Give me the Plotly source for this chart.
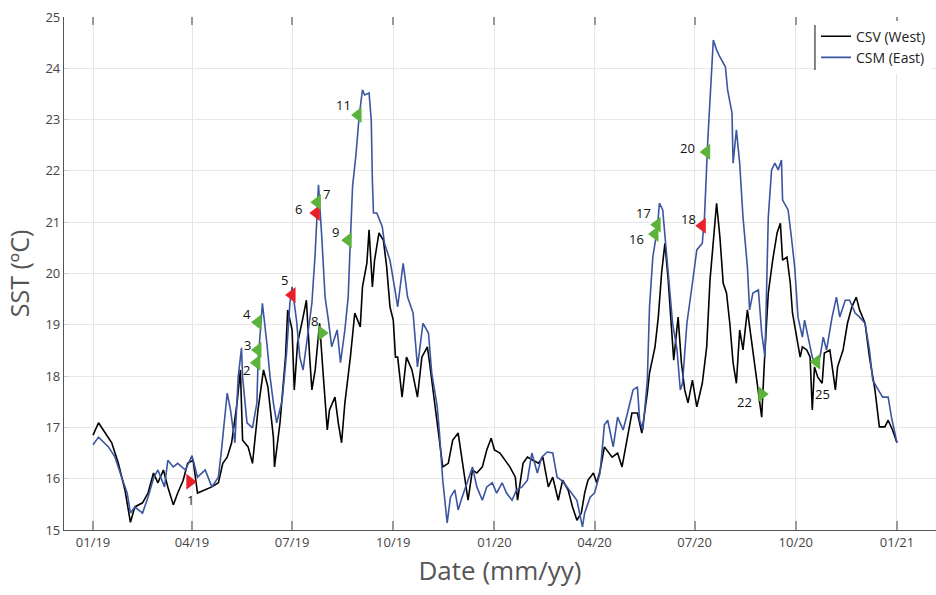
import pandas as pd
import plotly.graph_objects as go

START = pd.Timestamp("2019-01-01")

# ---- data (day offset from 2019-01-01, SST in degC) ----
csv_day = [0, 5, 17, 23, 29, 34, 38, 45, 50, 55, 59, 64, 68, 73, 77, 82, 86, 91, 95, 102,
           108, 114, 118, 122, 126, 131, 134, 136, 141, 145, 150, 155, 159, 164, 165, 170, 175,
           177, 181, 183, 186, 191, 194, 197, 199, 202, 206, 209, 213, 215, 220, 223, 226, 229,
           234, 238, 243, 245, 249, 251, 254, 256, 260, 264, 267, 270, 273, 275, 277, 281, 285,
           290, 295, 299, 304, 306, 311, 315, 318, 323, 327, 332, 336, 341, 345, 349, 354, 358,
           362, 365, 370, 375, 379, 384, 386, 391, 395, 400, 405, 409, 414, 418, 423, 427, 432,
           436, 440, 444, 447, 450, 455, 458, 461, 465, 472, 477, 481, 485, 490, 495, 499, 504,
           506, 511, 514, 517, 520, 523, 526, 528, 532, 535, 538, 541, 545, 549, 554, 558, 561,
           564, 567, 570, 573, 576, 579, 582, 585, 588, 591, 595, 599, 602, 605, 608, 611, 614,
           618, 622, 625, 627, 631, 634, 636, 640, 643, 645, 649, 652, 654, 656, 659, 663, 665,
           670, 675, 677, 682, 686, 690, 694, 697, 702, 706, 711, 715, 720, 723, 727, 731]
csv_sst = [16.85, 17.09, 16.70, 16.30, 15.78, 15.15, 15.45, 15.53, 15.72, 16.11, 15.92, 16.17,
           15.84, 15.49, 15.72, 15.97, 16.30, 16.36, 15.72, 15.78, 15.84, 15.92, 16.30, 16.42,
           16.70, 17.48, 18.12, 16.75, 16.62, 16.30, 17.34, 18.12, 17.79, 16.81, 16.23, 17.09,
           18.37, 19.29, 18.90, 17.73, 18.65, 19.15, 19.48, 18.37, 17.73, 18.12, 19.03, 18.12,
           16.95, 17.34, 17.59, 17.09, 16.70, 17.48, 18.37, 19.23, 18.96, 19.74, 20.20, 20.85,
           19.74, 20.26, 20.79, 20.65, 20.13, 19.35, 19.09, 18.37, 18.37, 17.59, 18.37, 18.12,
           17.59, 18.37, 18.57, 18.26, 17.40, 16.75, 16.23, 16.30, 16.75, 16.89, 16.30, 15.58,
           16.17, 16.11, 16.23, 16.56, 16.79, 16.56, 16.50, 16.36, 16.23, 16.03, 15.58, 16.30,
           16.42, 16.36, 16.30, 16.42, 15.84, 16.03, 15.58, 15.97, 15.78, 15.45, 15.19, 15.33,
           15.72, 15.97, 16.11, 15.92, 16.15, 16.62, 16.42, 16.50, 16.23, 16.70, 17.28, 17.28,
           16.89, 17.67, 18.06, 18.57, 19.15, 20.01, 20.59, 19.87, 18.90, 18.31, 19.15, 18.26,
           17.73, 17.48, 17.92, 17.40, 17.86, 18.57, 19.87, 20.71, 21.37, 20.71, 19.81, 19.62,
           19.03, 18.26, 17.86, 18.90, 18.51, 19.29, 18.65, 18.12, 17.73, 17.20, 18.51, 19.62,
           20.26, 20.79, 20.98, 20.26, 20.32, 19.81, 19.23, 18.76, 18.37, 18.57, 18.51, 18.37,
           17.34, 18.18, 17.98, 17.86, 18.45, 18.51, 17.73, 18.18, 18.51, 19.03, 19.35, 19.54,
           19.29, 19.03, 18.37, 17.73, 17.01, 17.01, 17.14, 16.95, 16.70]

csm_day = [0, 5, 14, 20, 26, 31, 34, 38, 45, 50, 55, 59, 65, 68, 73, 77, 84, 90, 95, 102, 108,
           114, 117, 122, 125, 129, 132, 135, 136, 140, 145, 149, 150, 154, 158, 161, 164, 167,
           172, 176, 179, 181, 185, 188, 191, 195, 199, 202, 204, 205, 208, 211, 214, 217, 222,
           225, 229, 232, 234, 236, 239, 242, 245, 247, 251, 253, 254, 255, 258, 263, 265, 270,
           275, 277, 282, 286, 291, 295, 300, 305, 308, 313, 315, 318, 322, 325, 329, 332, 335,
           341, 345, 349, 354, 358, 363, 367, 372, 376, 381, 385, 390, 395, 399, 404, 408, 413,
           418, 422, 426, 431, 435, 440, 445, 447, 452, 456, 461, 465, 468, 473, 477, 482, 486,
           491, 495, 497, 500, 504, 506, 509, 513, 515, 518, 522, 525, 527, 531, 534, 536, 540,
           545, 549, 554, 556, 559, 561, 564, 567, 570, 575, 577, 581, 582, 585, 588, 591, 595,
           597, 600, 605, 608, 611, 614, 617, 620, 623, 626, 627, 632, 635, 638, 641, 645, 647,
           650, 654, 656, 661, 664, 667, 672, 676, 679, 684, 688, 693, 697, 702, 706, 709, 714,
           718, 723, 726, 731]
csm_sst = [16.66, 16.81, 16.62, 16.42, 16.03, 15.72, 15.33, 15.45, 15.33, 15.64, 16.01, 16.17,
           15.84, 16.36, 16.23, 16.30, 16.17, 16.45, 16.03, 16.17, 15.84, 16.03, 16.60, 17.67,
           17.34, 16.70, 17.98, 18.55, 17.98, 17.09, 16.99, 17.48, 18.26, 19.42, 18.65, 17.98,
           17.48, 17.09, 17.53, 18.45, 19.42, 19.74, 19.09, 18.37, 18.12, 18.76, 19.42, 20.40,
           21.37, 21.73, 20.71, 19.54, 19.09, 18.57, 18.90, 18.26, 18.90, 19.54, 20.65, 21.70,
           22.30, 23.07, 23.58, 23.48, 23.52, 22.99, 21.82, 21.18, 21.18, 20.91, 20.59, 20.26,
           19.62, 19.35, 20.20, 19.54, 19.23, 18.18, 19.03, 18.84, 18.06, 17.40, 16.89, 15.97,
           15.14, 15.64, 15.78, 15.39, 15.60, 15.97, 16.23, 15.84, 15.58, 15.84, 15.92, 15.72,
           15.92, 15.72, 15.58, 15.78, 15.84, 15.97, 16.50, 16.11, 16.42, 16.52, 16.50, 16.03,
           15.97, 15.84, 15.72, 15.58, 15.06, 15.33, 15.64, 15.72, 16.11, 17.05, 17.14, 16.62,
           17.20, 16.95, 17.28, 17.73, 17.79, 17.14, 16.95, 17.92, 19.35, 20.32, 20.85, 21.37,
           21.24, 20.20, 19.54, 19.03, 18.51, 17.73, 17.86, 19.03, 19.81, 20.46, 20.59, 21.10,
           22.60, 23.44, 24.55, 24.36, 24.22, 24.03, 23.58, 23.13, 22.15, 22.80, 22.15, 21.10,
           20.13, 19.29, 19.62, 19.68, 18.84, 18.37, 21.10, 22.02, 22.15, 22.02, 22.21, 21.43,
           21.24, 20.71, 20.13, 19.15, 18.76, 19.09, 18.76, 18.37, 18.26, 18.37, 18.76, 18.51,
           19.15, 19.54, 19.15, 19.48, 19.48, 19.23, 19.15, 19.03, 18.51, 17.92, 17.73, 17.59,
           17.59, 17.20, 16.70]

ev_label = ["1", "2", "3", "4", "5", "6", "7", "8", "9", "11", "16", "17", "18", "20", "22", "25"]
ev_day = [88, 149, 150, 150, 181, 203, 204, 208, 232, 241, 511, 513, 554, 558, 608, 658]
ev_sst = [15.94, 18.26, 18.51, 19.05, 19.58, 21.18, 21.39, 18.84, 20.65, 23.09,
          20.77, 20.95, 20.93, 22.37, 17.65, 18.28]
ev_kind = ["R", "G", "G", "G", "R", "R", "G", "G", "G", "G", "G", "G", "R", "G", "G", "G"]

# ---- styles ----
BLUE = "#3b55a0"
KIND_COLOR = {"R": "#e8202a", "G": "#5cb33c"}
ev_symbol = ["triangle-right", "triangle-left", "triangle-left", "triangle-left", "triangle-left",
             "triangle-left", "triangle-left", "triangle-right", "triangle-left", "triangle-left",
             "triangle-left", "triangle-left", "triangle-left", "triangle-left", "triangle-right",
             "triangle-left"]
ev_offset = [(1, 18), (-10, 7), (-11, -5), (-11, -8), (-8, -15), (-18, -4), (9, -8), (-7, -12),
             (-13, -8), (-15, -10), (-19, 5), (-14, -12), (-14, -7), (-19, -4), (-17, 8), (6, 32)]

FONT = "Open Sans"


def to_dates(days):
    return START + pd.to_timedelta(days, unit="D")


fig = go.Figure()
fig.add_trace(go.Scatter(x=to_dates(csv_day), y=csv_sst, mode="lines", name="CSV (West)",
                         line=dict(color="#000000", width=1.6)))
fig.add_trace(go.Scatter(x=to_dates(csm_day), y=csm_sst, mode="lines", name="CSM (East)",
                         line=dict(color=BLUE, width=1.6)))
fig.add_trace(go.Scatter(x=to_dates(ev_day), y=ev_sst, mode="markers", showlegend=False,
                         marker=dict(symbol=ev_symbol, size=14,
                                     color=[KIND_COLOR[k] for k in ev_kind],
                                     line=dict(width=0))))
# helper trace for top tick marks
fig.add_trace(go.Scatter(x=to_dates([0]), y=[None], xaxis="x2", showlegend=False,
                         hoverinfo="skip", mode="lines"))

for lab, d, v, (dx, dy) in zip(ev_label, ev_day, ev_sst, ev_offset):
    fig.add_annotation(x=to_dates([d])[0], y=v, text=lab, showarrow=False,
                       xshift=dx, yshift=-dy, font=dict(family=FONT, size=13, color="#111"))

x_lo = START - pd.Timedelta(days=26.4)
x_hi = START + pd.Timedelta(days=766.5)

fig.update_layout(
    width=936, height=595,
    margin=dict(l=64, r=0, t=17, b=65),
    paper_bgcolor="white", plot_bgcolor="white",
    font=dict(family=FONT, color="#444"),
    xaxis=dict(range=[x_lo, x_hi], type="date", tick0="2019-01-01", dtick="M3",
               tickformat="%m/%y", showgrid=True, gridcolor="#e6e6e6", gridwidth=1,
               showline=True, linecolor="#555", linewidth=1.2,
               ticks="inside", ticklen=9, tickcolor="#999", tickwidth=1.5,
               tickfont=dict(size=13, color="#444"),
               title=dict(text="Date (mm/yy)", font=dict(size=26, color="#555"), standoff=12),
               zeroline=False),
    xaxis2=dict(overlaying="x", matches="x", side="top", type="date", tick0="2019-01-01",
                dtick="M3", showticklabels=False, showgrid=False, showline=False,
                ticks="inside", ticklen=8, tickcolor="#999", tickwidth=1.5),
    yaxis=dict(range=[15, 25], dtick=1, showgrid=True, gridcolor="#e6e6e6", gridwidth=1,
               showline=True, linecolor="#555", linewidth=1.2,
               ticks="inside", ticklen=4, tickcolor="#ccc",
               tickfont=dict(size=13, color="#444"),
               title=dict(text="SST (ºC)", font=dict(size=25, color="#555"), standoff=8),
               zeroline=False),
    legend=dict(x=0.8624, y=0.993, xanchor="left", yanchor="top", bgcolor="rgba(255,255,255,1)",
                borderwidth=0, font=dict(size=14, color="#222", family=FONT),
                tracegroupgap=0, itemwidth=30),
    showlegend=True,
)
fig.add_shape(type="line", xref="paper", yref="paper", x0=0.8612, x1=0.8612, y0=0.8967,
              y1=0.9844, line=dict(color="#333", width=1.2), layer="above")

fig.write_html("out.html")
